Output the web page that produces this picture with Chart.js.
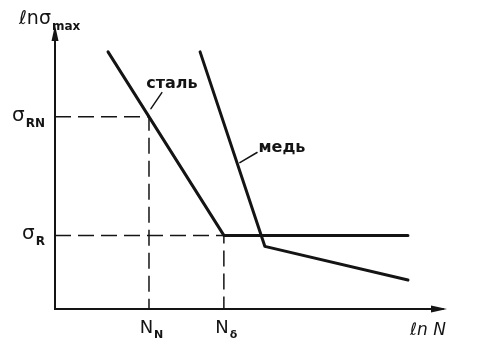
<!DOCTYPE html>
<html>
<head>
<meta charset="utf-8">
<script src="https://cdn.jsdelivr.net/npm/chart.js@4/dist/chart.umd.min.js"></script>
<style>
  html, body { margin: 0; padding: 0; background: #fff; }
  #wrap { width: 503px; height: 352px; position: relative; }
</style>
</head>
<body>
<div id="wrap"><canvas id="chart"></canvas></div>
<script>
// ln N / ln sigma_max in arbitrary units (axes have no numbers)
const steelX = [1.36, 4.33, 9.05];
const steelY = [9.15, 2.62, 2.62];
const copperX = [3.72, 5.38, 9.05];
const copperY = [9.15, 2.23, 1.03];

const sigmaRN = 6.84;
const sigmaR = 2.62;
const nN = 2.41;
const nB = 4.33;

const xTickValues = [nN, nB];
const xTickLabels = [["N", "N"], ["N", "δ"]];
const yTickValues = [sigmaRN, sigmaR];
const yTickLabels = [["σ", "RN"], ["σ", "R"]];

const toPoints = (xs, ys) => xs.map((x, i) => ({ x, y: ys[i] }));

const INK = "#141414";
const FONT = "'DejaVu Sans', sans-serif";

function subText(ctx, x, y, main, sub, size, align) {
  ctx.font = `${size}px ${FONT}`;
  const wMain = ctx.measureText(main).width;
  ctx.font = `bold ${Math.round(size * 0.62)}px ${FONT}`;
  const wSub = ctx.measureText(sub).width;
  let start = x;
  if (align === "center") start = x - (wMain + wSub) / 2;
  if (align === "right") start = x - wMain - wSub - 1;
  ctx.textAlign = "left";
  ctx.textBaseline = "alphabetic";
  ctx.font = `${size}px ${FONT}`;
  ctx.fillText(main, start, y);
  ctx.font = `bold ${Math.round(size * 0.62)}px ${FONT}`;
  ctx.fillText(sub, start + wMain + 1, y + size * 0.3);
}

const drawing = {
  id: "drawing",
  afterDraw(chart) {
    const { ctx, chartArea: a, scales } = chart;
    const px = (v) => scales.x.getPixelForValue(v);
    const py = (v) => scales.y.getPixelForValue(v);
    ctx.save();
    ctx.strokeStyle = INK;
    ctx.fillStyle = INK;
    ctx.lineWidth = 2;
    ctx.lineCap = "round";

    // axes
    ctx.beginPath();
    ctx.moveTo(a.left, a.top + 2);
    ctx.lineTo(a.left, a.bottom);
    ctx.lineTo(a.right - 2, a.bottom);
    ctx.stroke();
    // arrow heads
    ctx.beginPath();
    ctx.moveTo(a.left, a.top - 3);
    ctx.lineTo(a.left - 3.5, a.top + 13);
    ctx.lineTo(a.left + 3.5, a.top + 13);
    ctx.closePath();
    ctx.fill();
    ctx.beginPath();
    ctx.moveTo(a.right + 2, a.bottom);
    ctx.lineTo(a.right - 14, a.bottom - 3.5);
    ctx.lineTo(a.right - 14, a.bottom + 3.5);
    ctx.closePath();
    ctx.fill();

    // axis titles
    subText(ctx, 19, 24, "ℓnσ", "max", 19, "left");
    ctx.font = `italic 17px ${FONT}`;
    ctx.textAlign = "left";
    ctx.fillText("ℓn N", 410, 335);

    // tick labels
    xTickValues.forEach((v, i) => {
      subText(ctx, px(v) + 2, a.bottom + 24, xTickLabels[i][0], xTickLabels[i][1], 18, "center");
    });
    yTickValues.forEach((v, i) => {
      subText(ctx, a.left - 10, py(v) + 4, yTickLabels[i][0], yTickLabels[i][1], 20, "right");
    });

    // curve labels with leader lines
    ctx.lineWidth = 1.5;
    ctx.beginPath();
    ctx.moveTo(px(2.74), py(7.70));
    ctx.lineTo(px(2.46), py(7.13));
    ctx.moveTo(px(5.18), py(5.57));
    ctx.lineTo(px(4.74), py(5.21));
    ctx.stroke();
    ctx.font = `bold 16px ${FONT}`;
    ctx.textAlign = "center";
    ctx.textBaseline = "middle";
    ctx.fillText("сталь", px(3.0), py(8.01));
    ctx.fillText("медь", px(5.82), py(5.74));
    ctx.restore();
  }
};

new Chart(document.getElementById("chart"), {
  type: "scatter",
  data: {
    datasets: [
      {
        label: "сталь",
        data: toPoints(steelX, steelY),
        showLine: true,
        borderColor: INK,
        borderWidth: 3,
        pointRadius: 0,
        borderCapStyle: "round",
        borderJoinStyle: "round"
      },
      {
        label: "медь",
        data: toPoints(copperX, copperY),
        showLine: true,
        borderColor: INK,
        borderWidth: 3,
        pointRadius: 0,
        borderCapStyle: "round",
        borderJoinStyle: "round"
      },
      {
        label: "σRN",
        data: toPoints([0, nN, nN], [sigmaRN, sigmaRN, 0]),
        showLine: true,
        borderColor: INK,
        borderWidth: 1.5,
        borderDash: [16, 7],
        pointRadius: 0
      },
      {
        label: "σR",
        data: toPoints([0, nB, nB], [sigmaR, sigmaR, 0]),
        showLine: true,
        borderColor: INK,
        borderWidth: 1.5,
        borderDash: [16, 7],
        pointRadius: 0
      }
    ]
  },
  options: {
    responsive: true,
    maintainAspectRatio: false,
    animation: false,
    layout: { padding: { left: 55, top: 28, right: 58, bottom: 43 } },
    plugins: { legend: { display: false }, tooltip: { enabled: false } },
    scales: {
      x: { type: "linear", min: 0, max: 10, display: false },
      y: { type: "linear", min: 0, max: 10, display: false }
    }
  },
  plugins: [drawing]
});
</script>
</body>
</html>
